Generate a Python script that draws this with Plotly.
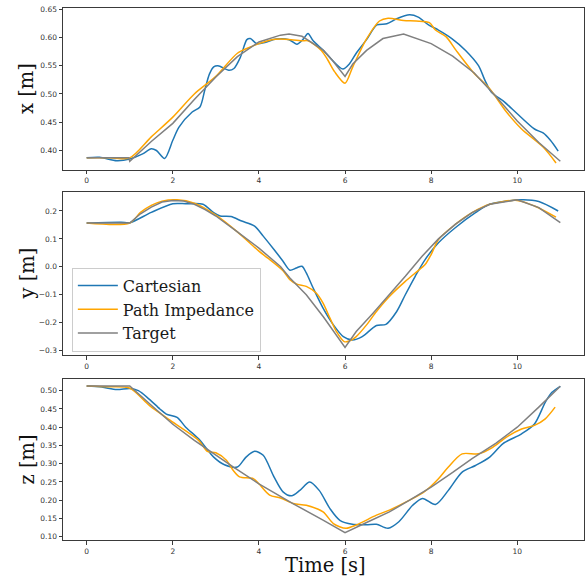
import plotly.graph_objects as go

# ---------------- data ----------------
# x position
tx_target = [0, 0.5, 0.98, 1.0, 1.5, 2.0, 2.5, 3.0, 3.5, 4.0, 4.5, 4.7, 5.0, 5.14, 5.5, 5.7, 5.85, 6.0,
             6.18, 6.5, 6.88, 7.36, 8.0, 8.5, 9.0, 9.5, 10.0, 10.5, 11.0]
x_target = [0.387, 0.387, 0.387, 0.381, 0.416, 0.448, 0.490, 0.530, 0.566, 0.592, 0.604, 0.606, 0.602, 0.595,
            0.577, 0.560, 0.545, 0.531, 0.553, 0.577, 0.598, 0.606, 0.589, 0.567, 0.537, 0.496, 0.452, 0.414, 0.381]

tx_path = [0, 0.5, 1.0, 1.5, 2.0, 2.5, 3.0, 3.5, 3.8, 4.0, 4.3, 4.5, 5.0, 5.14, 5.45, 5.6, 5.76, 6.0, 6.18,
           6.49, 6.8, 7.0, 7.36, 7.65, 7.96, 8.1, 8.35, 8.58, 8.97, 9.36, 9.75, 10.1, 10.6, 10.9]
x_path = [0.387, 0.387, 0.387, 0.424, 0.459, 0.500, 0.531, 0.572, 0.583, 0.589, 0.596, 0.597, 0.594, 0.594,
          0.577, 0.560, 0.539, 0.519, 0.548, 0.596, 0.629, 0.634, 0.630, 0.629, 0.626, 0.613, 0.601, 0.577,
          0.539, 0.509, 0.468, 0.438, 0.406, 0.378]

tx_cart = [0, 0.3, 0.7, 1.0, 1.3, 1.5, 1.62, 1.81, 2.0, 2.14, 2.45, 2.63, 2.74, 2.85, 2.95, 3.05, 3.3, 3.42,
           3.57, 3.72, 3.8, 3.95, 4.14, 4.4, 4.7, 4.88, 5.03, 5.14, 5.26, 5.5, 5.7, 5.95, 6.1, 6.26, 6.5, 6.74,
           6.97, 7.2, 7.5, 7.7, 7.94, 8.17, 8.48, 8.8, 9.1, 9.25, 9.4, 9.7, 10.0, 10.4, 10.6, 10.77, 10.95]
x_cart = [0.387, 0.388, 0.382, 0.385, 0.394, 0.403, 0.400, 0.386, 0.418, 0.441, 0.468, 0.477, 0.506, 0.535,
          0.548, 0.550, 0.542, 0.545, 0.565, 0.596, 0.598, 0.589, 0.591, 0.597, 0.596, 0.588, 0.597, 0.607,
          0.594, 0.577, 0.560, 0.544, 0.553, 0.572, 0.596, 0.622, 0.624, 0.633, 0.640, 0.636, 0.622, 0.613,
          0.598, 0.577, 0.550, 0.524, 0.503, 0.486, 0.465, 0.438, 0.431, 0.418, 0.399]

# y position
ty_target = [0, 1.0, 1.25, 1.5, 1.75, 2.0, 2.25, 2.5, 2.75, 3.0, 3.5, 4.0, 4.5, 4.72, 5.1, 5.5, 6.0,
             6.26, 6.65, 7.03, 7.4, 7.79, 8.17, 8.56, 8.95, 9.36, 10.0, 10.5, 11.0]
y_target = [0.157, 0.157, 0.190, 0.214, 0.232, 0.238, 0.236, 0.224, 0.205, 0.182, 0.125, 0.067, 0.001,
            -0.040, -0.100, -0.180, -0.289, -0.232, -0.166, -0.100, -0.034, 0.038, 0.100, 0.152, 0.194,
            0.224, 0.240, 0.212, 0.158]

ty_path = [0, 1.0, 1.25, 1.5, 1.75, 2.1, 2.5, 3.0, 3.5, 4.0, 4.2, 4.56, 4.72, 4.88, 5.1, 5.33, 5.49, 5.65,
           5.8, 5.98, 6.1, 6.26, 6.5, 6.73, 7.03, 7.4, 7.63, 7.86, 8.0, 8.17, 8.56, 8.95, 9.36, 10.0, 10.4, 10.9]
y_path = [0.157, 0.157, 0.195, 0.220, 0.235, 0.240, 0.228, 0.185, 0.125, 0.056, 0.032, -0.014, -0.046,
          -0.062, -0.070, -0.094, -0.130, -0.184, -0.232, -0.268, -0.266, -0.250, -0.208, -0.160, -0.106,
          -0.052, -0.022, 0.008, 0.044, 0.098, 0.152, 0.194, 0.224, 0.238, 0.218, 0.178]

ty_cart = [0, 0.8, 1.0, 1.5, 2.0, 2.3, 2.7, 2.95, 3.1, 3.35, 3.6, 3.9, 4.1, 4.35, 4.56, 4.72, 4.87, 5.0,
           5.1, 5.26, 5.49, 5.73, 5.96, 6.17, 6.4, 6.73, 6.95, 7.2, 7.4, 7.63, 7.86, 8.17, 8.56, 9.03, 9.36,
           10.1, 10.5, 10.95]
y_cart = [0.157, 0.160, 0.158, 0.195, 0.226, 0.226, 0.224, 0.194, 0.182, 0.180, 0.164, 0.146, 0.110, 0.062,
          0.020, -0.012, -0.004, 0.002, -0.022, -0.076, -0.148, -0.208, -0.250, -0.262, -0.250, -0.210,
          -0.206, -0.160, -0.100, -0.034, 0.026, 0.086, 0.140, 0.194, 0.224, 0.240, 0.234, 0.200]

# z position
tz_target = [0, 1.0, 1.5, 2.0, 2.5, 3.0, 3.4, 4.0, 4.5, 4.8, 5.5, 6.0, 6.5, 7.03, 7.5, 8.0, 8.5, 8.95,
             9.5, 10.0, 10.5, 11.0]
z_target = [0.513, 0.513, 0.460, 0.408, 0.364, 0.323, 0.291, 0.245, 0.210, 0.190, 0.145, 0.111, 0.139,
            0.168, 0.200, 0.236, 0.276, 0.314, 0.356, 0.400, 0.455, 0.512]

tz_path = [0, 0.5, 1.0, 1.46, 2.0, 2.6, 2.8, 3.0, 3.25, 3.4, 3.55, 3.87, 4.0, 4.25, 4.5, 4.8, 5.1, 5.49,
           5.73, 6.02, 6.26, 6.73, 7.03, 7.5, 7.86, 8.17, 8.4, 8.72, 9.1, 9.43, 9.75, 10.1, 10.4, 10.65, 10.88]
z_path = [0.513, 0.511, 0.507, 0.459, 0.414, 0.364, 0.334, 0.330, 0.309, 0.282, 0.264, 0.259, 0.245, 0.214,
          0.206, 0.191, 0.186, 0.168, 0.136, 0.123, 0.132, 0.159, 0.173, 0.200, 0.225, 0.259, 0.291, 0.327,
          0.327, 0.345, 0.373, 0.395, 0.405, 0.423, 0.455]

tz_cart = [0, 0.35, 0.7, 1.0, 1.2, 1.45, 1.7, 1.85, 2.1, 2.3, 2.6, 2.95, 3.2, 3.5, 3.7, 3.9, 4.1, 4.35,
           4.56, 4.76, 4.95, 5.18, 5.4, 5.65, 5.88, 6.17, 6.5, 6.73, 7.0, 7.25, 7.57, 7.8, 8.1, 8.4, 8.72,
           9.03, 9.36, 9.67, 10.1, 10.4, 10.65, 10.8, 11.0]
z_cart = [0.513, 0.510, 0.503, 0.506, 0.500, 0.477, 0.450, 0.436, 0.427, 0.400, 0.368, 0.318, 0.297, 0.291,
          0.318, 0.334, 0.323, 0.264, 0.223, 0.212, 0.227, 0.250, 0.227, 0.177, 0.145, 0.134, 0.133, 0.134,
          0.123, 0.141, 0.186, 0.205, 0.188, 0.227, 0.277, 0.295, 0.318, 0.355, 0.382, 0.409, 0.468, 0.495,
          0.512]

series_names = ["Cartesian", "Path Impedance", "Target"]
colors = ["#1f77b4", "orange", "gray"]

x_ticks = [0, 2, 4, 6, 8, 10]

# ---------------- figure ----------------
fig = go.Figure()

panels = [
    ("y", [(tx_cart, x_cart), (tx_path, x_path), (tx_target, x_target)]),
    ("y2", [(ty_cart, y_cart), (ty_path, y_path), (ty_target, y_target)]),
    ("y3", [(tz_cart, z_cart), (tz_path, z_path), (tz_target, z_target)]),
]
xaxes_ids = ["x", "x2", "x3"]

for i, (yid, sets) in enumerate(panels):
    for j, (tt, vv) in enumerate(sets):
        fig.add_trace(go.Scatter(
            x=tt, y=vv, mode="lines", name=series_names[j],
            line=dict(color=colors[j], width=1.5,
                      shape="linear" if j == 2 else "spline",
                      smoothing=0.8 if j != 2 else None),
            xaxis=xaxes_ids[i], yaxis=yid,
            showlegend=(i == 1), legendgroup=series_names[j],
        ))

spine = "#3a3a3a"
tickfont = dict(family="DejaVu Sans", size=7.5, color="#333333")

common_x = dict(range=[-0.55, 11.55], tickvals=x_ticks, ticks="outside", ticklen=3.5, tickwidth=0.8,
                tickcolor=spine, showline=True, linecolor=spine, linewidth=1, mirror=True,
                showgrid=False, zeroline=False, tickfont=tickfont)
common_y = dict(ticks="outside", ticklen=3.5, tickwidth=0.8, tickcolor=spine, showline=True,
                linecolor=spine, linewidth=1, mirror=True, showgrid=False, zeroline=False,
                tickfont=tickfont)

d_top = [0.6955, 1.0]
d_mid = [0.3477, 0.6541]
d_bot = [0.0, 0.3026]

fig.update_layout(
    width=587, height=578,
    margin=dict(l=63, r=3, t=8, b=38),
    paper_bgcolor="white", plot_bgcolor="white",
    xaxis=dict(common_x, domain=[0, 1], anchor="y"),
    yaxis=dict(common_y, domain=d_top, anchor="x", range=[0.3655, 0.652],
               tickvals=[0.40, 0.45, 0.50, 0.55, 0.60, 0.65], tickformat=".2f"),
    xaxis2=dict(common_x, domain=[0, 1], anchor="y2"),
    yaxis2=dict(common_y, domain=d_mid, anchor="x2", range=[-0.316, 0.268],
                tickvals=[-0.3, -0.2, -0.1, 0.0, 0.1, 0.2], tickformat=".1f"),
    xaxis3=dict(common_x, domain=[0, 1], anchor="y3"),
    yaxis3=dict(common_y, domain=d_bot, anchor="x3", range=[0.091, 0.532],
                tickvals=[0.10, 0.15, 0.20, 0.25, 0.30, 0.35, 0.40, 0.45, 0.50], tickformat=".2f"),
    legend=dict(x=0.017, y=0.512, xanchor="left", yanchor="top",
                bgcolor="rgba(255,255,255,0.85)", bordercolor="#cccccc", borderwidth=1,
                font=dict(family="DejaVu Serif", size=16, color="#1a1a1a"),
                traceorder="grouped", tracegroupgap=0, itemwidth=40),
)

title_font = dict(family="DejaVu Serif", size=19.5, color="#111111")
for yref, label in [("y domain", "x [m]"), ("y2 domain", "y [m]"), ("y3 domain", "z [m]")]:
    fig.add_annotation(text=label, xref="paper", yref=yref, x=-0.069, y=0.5,
                       xanchor="center", yanchor="middle", textangle=-90,
                       showarrow=False, font=title_font)

fig.add_annotation(text="Time [s]", xref="paper", yref="paper", x=0.503, y=-0.047,
                   xanchor="center", yanchor="middle", showarrow=False, font=title_font)

fig.write_html("out.html", config={"displayModeBar": False},
               post_script="document.body.style.margin='0';document.body.style.padding='0';")
